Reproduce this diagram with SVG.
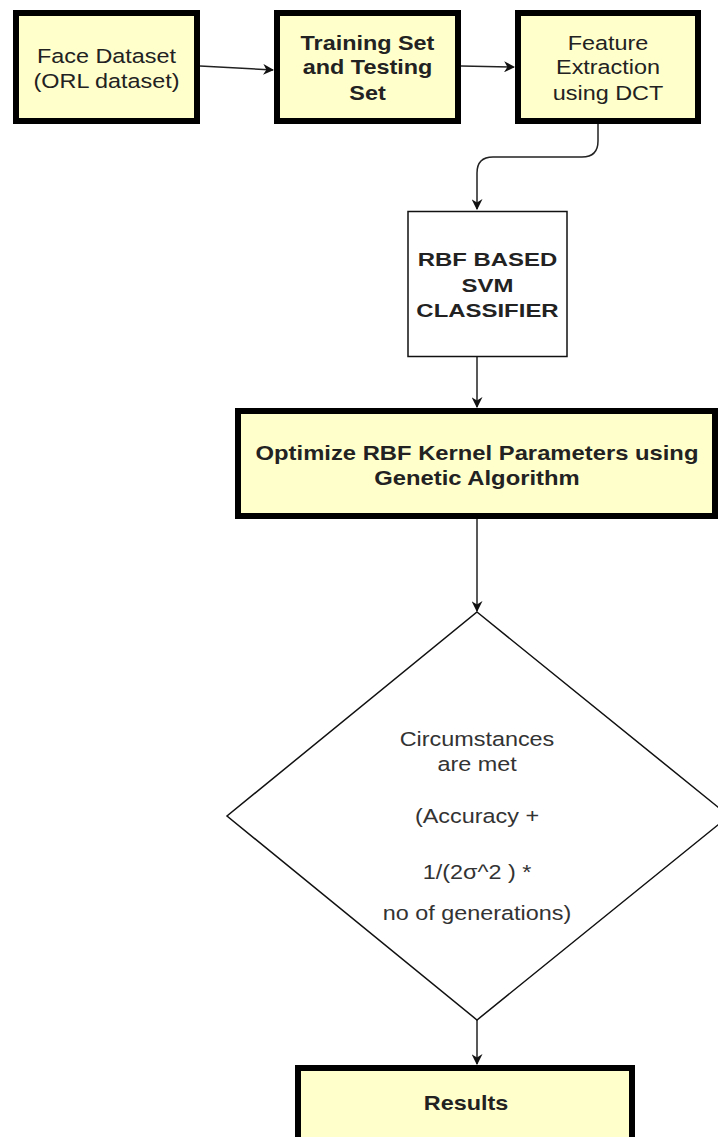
<svg xmlns="http://www.w3.org/2000/svg" width="718" height="1137" viewBox="0 0 718 1137">
<style>
.box{fill:#FFFFCC;stroke:#000;stroke-width:6}
.thin{fill:#FFFFFF;stroke:#111;stroke-width:1.5}
.t{font-family:"Liberation Sans",Arial,sans-serif;font-size:19.5px;fill:#222;text-anchor:middle}
.b{font-weight:bold}
.d{fill:#333}
.c{fill:none;stroke:#222;stroke-width:1.5}
</style>
<defs>
<marker id="ah" viewBox="0 0 10 10" refX="9" refY="5" markerWidth="11" markerHeight="11" markerUnits="userSpaceOnUse" orient="auto">
<path d="M0,0 L10,5 L0,10 L3,5 Z" fill="#111"/>
</marker>
</defs>
<g id="connectors">
<path class="c" d="M200,66 L273,70" marker-end="url(#ah)"/>
<path class="c" d="M461,66 L514,67" marker-end="url(#ah)"/>
<path class="c" d="M598,124 L598,141 Q598,157 582,157 L493,157 Q477,157 477,173 L477,209" marker-end="url(#ah)"/>
<path class="c" d="M477,357 L477,407" marker-end="url(#ah)"/>
<path class="c" d="M477,519 L477,611" marker-end="url(#ah)"/>
<path class="c" d="M477,1020 L477,1064" marker-end="url(#ah)"/>
</g>
<g id="face-dataset">
<rect class="box" x="16" y="13" width="181" height="108"/>
<g transform="translate(106.5,0) scale(1.2,1)">
<text class="t" x="0" y="63">Face Dataset</text>
<text class="t" x="0" y="88">(ORL dataset)</text>
</g>
</g>
<g id="training-testing">
<rect class="box" x="277" y="13" width="181" height="108"/>
<g transform="translate(367.5,0) scale(1.2,1)">
<text class="t b" x="0" y="50">Training Set</text>
<text class="t b" x="0" y="74">and Testing</text>
<text class="t b" x="0" y="100">Set</text>
</g>
</g>
<g id="feature-extraction">
<rect class="box" x="518" y="13" width="180" height="108"/>
<g transform="translate(608,0) scale(1.2,1)">
<text class="t" x="0" y="50">Feature</text>
<text class="t" x="0" y="74">Extraction</text>
<text class="t" x="0" y="100">using DCT</text>
</g>
</g>
<g id="rbf-svm">
<rect class="thin" x="408" y="211.5" width="159" height="145"/>
<g transform="translate(487.5,0) scale(1.26,1)">
<text class="t b" x="0" y="266" style="font-size:19px">RBF BASED</text>
<text class="t b" x="0" y="292" style="font-size:19px">SVM</text>
<text class="t b" x="0" y="317" style="font-size:19px">CLASSIFIER</text>
</g>
</g>
<g id="optimize">
<rect class="box" x="238" y="411" width="477" height="105"/>
<g transform="translate(477,0) scale(1.22,1)">
<text class="t b" x="0" y="460">Optimize RBF Kernel Parameters using</text>
<text class="t b" x="0" y="485">Genetic Algorithm</text>
</g>
</g>
<g id="decision">
<polygon class="thin" points="477,612 729,816 477,1020 227,816"/>
<g transform="translate(477,0) scale(1.2,1)">
<text class="t d" x="0" y="746">Circumstances</text>
<text class="t d" x="0" y="771">are met</text>
<text class="t d" x="0" y="823">(Accuracy +</text>
<text class="t d" x="0" y="879">1/(2σ^2 ) *</text>
<text class="t d" x="0" y="920">no of generations)</text>
</g>
</g>
<g id="results">
<rect class="box" x="298" y="1068" width="334" height="100"/>
<g transform="translate(466,0) scale(1.2,1)">
<text class="t b" x="0" y="1110">Results</text>
</g>
</g>
</svg>
